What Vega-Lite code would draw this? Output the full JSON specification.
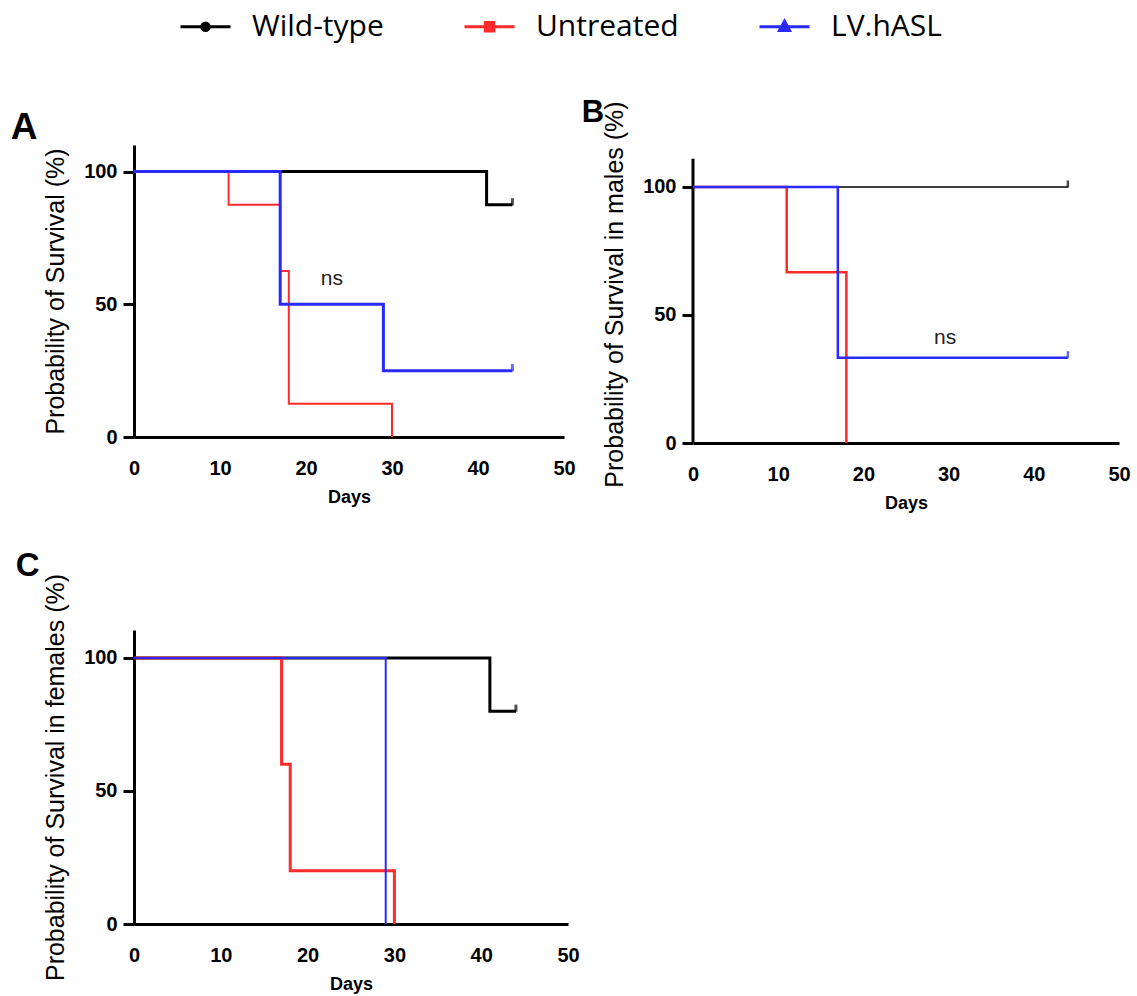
{
  "$schema": "https://vega.github.io/schema/vega-lite/v6.json",
  "autosize": {"type": "pad"},
  "padding": {"left": 10, "top": 0, "right": 5, "bottom": 5},
  "background": "white",
  "datasets": {
    "km": [
      {"panel": "A", "series": "Wild-type", "day": 0, "surv": 100},
      {"panel": "A", "series": "Wild-type", "day": 41, "surv": 87.5},
      {"panel": "A", "series": "Wild-type", "day": 44, "surv": 87.5},
      {"panel": "A", "series": "Untreated", "day": 0, "surv": 100},
      {"panel": "A", "series": "Untreated", "day": 11, "surv": 87.5},
      {"panel": "A", "series": "Untreated", "day": 17, "surv": 62.5},
      {"panel": "A", "series": "Untreated", "day": 18, "surv": 12.5},
      {"panel": "A", "series": "Untreated", "day": 30, "surv": 0},
      {"panel": "A", "series": "LV.hASL", "day": 0, "surv": 100},
      {"panel": "A", "series": "LV.hASL", "day": 17, "surv": 50},
      {"panel": "A", "series": "LV.hASL", "day": 29, "surv": 25},
      {"panel": "A", "series": "LV.hASL", "day": 44, "surv": 25},
      {"panel": "B", "series": "Wild-type", "day": 0, "surv": 100},
      {"panel": "B", "series": "Wild-type", "day": 44, "surv": 100},
      {"panel": "B", "series": "Untreated", "day": 0, "surv": 100},
      {"panel": "B", "series": "Untreated", "day": 11, "surv": 66.67},
      {"panel": "B", "series": "Untreated", "day": 18, "surv": 0},
      {"panel": "B", "series": "LV.hASL", "day": 0, "surv": 100},
      {"panel": "B", "series": "LV.hASL", "day": 17, "surv": 33.33},
      {"panel": "B", "series": "LV.hASL", "day": 44, "surv": 33.33},
      {"panel": "C", "series": "Wild-type", "day": 0, "surv": 100},
      {"panel": "C", "series": "Wild-type", "day": 41, "surv": 80},
      {"panel": "C", "series": "Wild-type", "day": 44, "surv": 80},
      {"panel": "C", "series": "Untreated", "day": 0, "surv": 100},
      {"panel": "C", "series": "Untreated", "day": 17, "surv": 60},
      {"panel": "C", "series": "Untreated", "day": 18, "surv": 20},
      {"panel": "C", "series": "Untreated", "day": 30, "surv": 0},
      {"panel": "C", "series": "LV.hASL", "day": 0, "surv": 100},
      {"panel": "C", "series": "LV.hASL", "day": 29, "surv": 0}
    ],
    "censor": [
      {"panel": "A", "series": "Wild-type", "day": 44, "surv": 87.5},
      {"panel": "A", "series": "LV.hASL", "day": 44, "surv": 25},
      {"panel": "B", "series": "Wild-type", "day": 44, "surv": 100},
      {"panel": "B", "series": "LV.hASL", "day": 44, "surv": 33.33},
      {"panel": "C", "series": "Wild-type", "day": 44, "surv": 80}
    ]
  },
  "config": {
    "view": {"stroke": null},
    "axis": {
      "grid": false,
      "domainColor": "#000000",
      "domainWidth": 3,
      "tickColor": "#000000",
      "tickWidth": 3,
      "labelColor": "#000000",
      "labelFont": "Liberation Sans",
      "labelFontWeight": "bold",
      "labelFontSize": 20,
      "titleColor": "#000000"
    },
    "axisX": {
      "ticks": false,
      "labelPadding": 21,
      "labelFlush": false,
      "titleFont": "Liberation Sans",
      "titleFontWeight": "bold",
      "titleFontSize": 18,
      "titlePadding": 10
    },
    "axisY": {
      "tickSize": 11,
      "labelPadding": 6,
      "titleFont": "Liberation Sans",
      "titleFontWeight": "normal",
      "titleFontSize": 25,
      "titlePadding": 15
    },
    "title": {
      "font": "Liberation Sans",
      "fontWeight": "bold",
      "color": "#000000",
      "anchor": "start",
      "frame": "bounds",
      "offset": 0,
      "baseline": "bottom"
    }
  },
  "bounds": "flush",
  "columns": 2,
  "spacing": {"row": 187, "column": 125},
  "resolve": {
    "scale": {"x": "independent", "y": "independent", "color": "shared"},
    "legend": {"color": "shared"}
  },
  "concat": [
    {
      "width": 430,
      "height": 292,
      "title": {"text": "A", "fontSize": 37, "dx": -33, "dy": 6},
      "layer": [
        {
          "data": {"name": "km"},
          "transform": [{"filter": "datum.panel === 'A'"}],
          "mark": {"type": "line", "interpolate": "step-after"},
          "encoding": {
            "x": {"field": "day", "type": "quantitative", "scale": {"domain": [0, 50], "nice": false},
                  "axis": {"title": "Days", "values": [0, 10, 20, 30, 40, 50]}},
            "y": {"field": "surv", "type": "quantitative", "scale": {"domain": [0, 110], "nice": false},
                  "axis": {"title": "Probability of Survival (%)", "values": [0, 50, 100]}},
            "color": {
              "field": "series", "type": "nominal",
              "scale": {"domain": ["Wild-type", "Untreated", "LV.hASL"], "range": ["#000000", "#ff2a2a", "#2a2aff"]},
              "legend": {
                "title": null,
                "orient": "none",
                "legendX": 45,
                "legendY": -145,
                "direction": "horizontal",
                "padding": 0,
                "symbolSize": 2500,
                "symbolStrokeWidth": 3,
                "labelFont": "Open Sans",
                "labelFontSize": 30,
                "labelColor": "#000000",
                "labelOffset": 20,
                "columnPadding": 74,
                "encode": {
                  "symbols": {
                    "update": {
                      "shape": {"signal": "datum.value === 'Wild-type' ? 'M-1,0L1,0M-0.15,0A0.15,0.15,0,1,1,0.15,0A0.15,0.15,0,1,1,-0.15,0Z' : datum.value === 'Untreated' ? 'M-1,0L1,0M-0.17,-0.17L0.17,-0.17L0.17,0.17L-0.17,0.17Z' : 'M-1,0L1,0M0,-0.22L0.2,0.15L-0.2,0.15Z'"},
                      "fill": {"scale": "color", "field": "value"},
                      "stroke": {"scale": "color", "field": "value"},
                      "strokeWidth": {"value": 3},
                      "opacity": {"value": 1}
                    }
                  }
                }
              }
            },
            "strokeWidth": {"condition": {"test": "datum.series === 'Untreated'", "value": 2}, "value": 3}
          }
        },
        {
          "data": {"name": "censor"},
          "transform": [{"filter": "datum.panel === 'A'"}],
          "mark": {"type": "tick", "orient": "vertical", "size": 7, "thickness": 3, "yOffset": -3},
          "encoding": {
            "x": {"field": "day", "type": "quantitative"},
            "y": {"field": "surv", "type": "quantitative"},
            "color": {"field": "series", "type": "nominal", "legend": null}
          }
        },
        {
          "data": {"values": [{}]},
          "mark": {"type": "text", "font": "Liberation Sans", "fontSize": 21, "color": "#222222"},
          "encoding": {"x": {"datum": 23}, "y": {"datum": 59.5}, "text": {"value": "ns"}}
        }
      ]
    },
    {
      "width": 426,
      "height": 298,
      "title": {"text": "B", "fontSize": 31, "dx": -21, "dy": 32},
      "layer": [
        {
          "data": {"values": [{}]},
          "mark": {"type": "rule", "strokeWidth": 3, "color": "#000000"},
          "encoding": {"x": {"datum": 0}, "y": {"datum": 0}, "y2": {"datum": 111}}
        },
        {
          "data": {"name": "km"},
          "transform": [{"filter": "datum.panel === 'B'"}],
          "mark": {"type": "line", "interpolate": "step-after"},
          "encoding": {
            "x": {"field": "day", "type": "quantitative", "scale": {"domain": [0, 50], "nice": false},
                  "axis": {"title": "Days", "values": [0, 10, 20, 30, 40, 50]}},
            "y": {"field": "surv", "type": "quantitative", "scale": {"domain": [0, 116.4], "nice": false},
                  "axis": {"title": "Probability of Survival in males (%)", "values": [0, 50, 100], "domain": false}},
            "color": {"field": "series", "type": "nominal", "legend": null},
            "strokeWidth": {"condition": {"test": "datum.series === 'Wild-type'", "value": 1.5}, "value": 2.5}
          }
        },
        {
          "data": {"name": "censor"},
          "transform": [{"filter": "datum.panel === 'B'"}],
          "mark": {"type": "tick", "orient": "vertical", "size": 7, "thickness": 2.5, "yOffset": -3},
          "encoding": {
            "x": {"field": "day", "type": "quantitative"},
            "y": {"field": "surv", "type": "quantitative"},
            "color": {"field": "series", "type": "nominal", "legend": null}
          }
        },
        {
          "data": {"values": [{}]},
          "mark": {"type": "text", "font": "Liberation Sans", "fontSize": 21, "color": "#222222"},
          "encoding": {"x": {"datum": 29.6}, "y": {"datum": 41}, "text": {"value": "ns"}}
        }
      ]
    },
    {
      "width": 434,
      "height": 294,
      "title": {"text": "C", "fontSize": 33, "dx": -28, "dy": 14},
      "layer": [
        {
          "data": {"name": "km"},
          "transform": [{"filter": "datum.panel === 'C'"}],
          "mark": {"type": "line", "interpolate": "step-after"},
          "encoding": {
            "x": {"field": "day", "type": "quantitative", "scale": {"domain": [0, 50], "nice": false},
                  "axis": {"title": "Days", "values": [0, 10, 20, 30, 40, 50]}},
            "y": {"field": "surv", "type": "quantitative", "scale": {"domain": [0, 110.5], "nice": false},
                  "axis": {"title": "Probability of Survival in females (%)", "values": [0, 50, 100]}},
            "color": {"field": "series", "type": "nominal", "legend": null},
            "strokeWidth": {"condition": {"test": "datum.series === 'LV.hASL'", "value": 2}, "value": 3}
          }
        },
        {
          "data": {"name": "censor"},
          "transform": [{"filter": "datum.panel === 'C'"}],
          "mark": {"type": "tick", "orient": "vertical", "size": 7, "thickness": 3, "yOffset": -3},
          "encoding": {
            "x": {"field": "day", "type": "quantitative"},
            "y": {"field": "surv", "type": "quantitative"},
            "color": {"field": "series", "type": "nominal", "legend": null}
          }
        }
      ]
    }
  ]
}
